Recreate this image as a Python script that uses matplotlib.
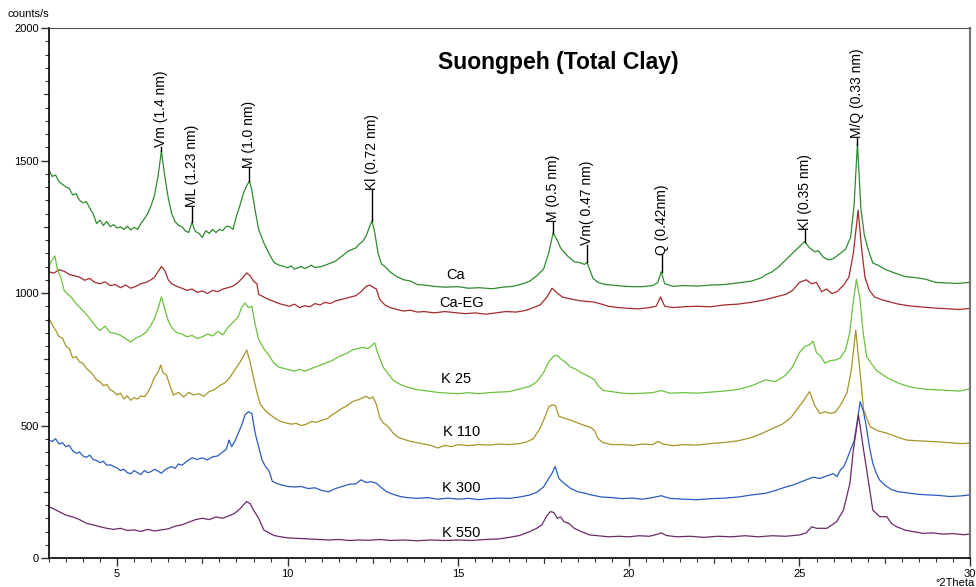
import matplotlib
matplotlib.use("Agg")
import matplotlib.pyplot as plt
from matplotlib.ticker import MultipleLocator, FixedLocator
import numpy as np

plt.rcParams['font.family'] = ['Liberation Sans', 'DejaVu Sans']

# ---------------- data (°2Theta, counts/s) ----------------
ca_x = [3.0, 3.1, 3.2, 3.3, 3.4, 3.5, 3.6, 3.7, 3.8, 3.9, 4.0, 4.1, 4.2, 4.3, 4.4, 4.5, 4.6, 4.7, 4.8, 4.9,
        5.0, 5.1, 5.2, 5.3, 5.4, 5.5, 5.6, 5.7, 5.8, 5.9, 6.0, 6.1, 6.2, 6.3, 6.4, 6.5, 6.6, 6.7, 6.8, 6.9,
        7.0, 7.1, 7.2, 7.25, 7.3, 7.4, 7.5, 7.6, 7.7, 7.8, 7.9, 8.0, 8.1, 8.2, 8.3, 8.4, 8.5, 8.6, 8.7, 8.8,
        8.88, 8.95, 9.05, 9.15, 9.3, 9.45, 9.6, 9.75, 9.9, 10.0, 10.1, 10.2, 10.4, 10.5, 10.7, 10.8, 11.0,
        11.2, 11.4, 11.6, 11.8, 12.0, 12.1, 12.2, 12.3, 12.4, 12.47, 12.55, 12.65, 12.75, 12.85, 13.0, 13.2,
        13.4, 13.6, 13.8, 14.0, 14.3, 14.6, 15.0, 15.3, 15.6, 16.0, 16.3, 16.6, 16.9, 17.1, 17.3, 17.5, 17.65,
        17.78, 17.9, 18.0, 18.2, 18.4, 18.55, 18.7, 18.77, 18.85, 18.95, 19.1, 19.3, 19.5, 19.8, 20.1, 20.4,
        20.7, 20.85, 20.95, 21.05, 21.3, 21.6, 22.0, 22.4, 22.8, 23.2, 23.6, 23.9, 24.0, 24.2, 24.4, 24.6,
        24.8, 25.0, 25.15, 25.3, 25.45, 25.55, 25.7, 25.85, 26.0, 26.2, 26.35, 26.5, 26.6, 26.7, 26.8, 26.9,
        27.0, 27.15, 27.3, 27.5, 27.8, 28.1, 28.4, 28.7, 29.0, 29.3, 29.6, 30.0]
ca_y = [1465, 1440, 1445, 1420, 1410, 1400, 1395, 1370, 1375, 1350, 1340, 1345, 1320, 1300, 1262, 1275, 1255, 1270, 1250, 1258,
        1245, 1250, 1240, 1252, 1238, 1248, 1240, 1262, 1280, 1300, 1330, 1370, 1440, 1535, 1440, 1360, 1300, 1270, 1255, 1250,
        1235, 1228, 1268, 1245, 1232, 1225, 1210, 1235, 1225, 1240, 1228, 1240, 1235, 1252, 1250, 1240, 1290, 1330, 1375, 1405,
        1422, 1390, 1310, 1240, 1190, 1150, 1115, 1105, 1100, 1095, 1102, 1090, 1100, 1092, 1105, 1096, 1100,
        1110, 1120, 1140, 1160, 1170, 1185, 1195, 1215, 1250, 1272, 1230, 1150, 1110, 1100, 1080, 1062,
        1050, 1045, 1032, 1030, 1025, 1022, 1024, 1018, 1020, 1016, 1022, 1025, 1035, 1045, 1065, 1090, 1150,
        1226, 1200, 1170, 1140, 1118, 1115, 1108, 1115, 1090, 1055, 1040, 1032, 1030, 1026, 1024, 1024,
        1028, 1040, 1080, 1035, 1025, 1028, 1026, 1030, 1032, 1038, 1045, 1058, 1068, 1080, 1100, 1125,
        1150, 1175, 1194, 1170, 1155, 1160, 1135, 1125, 1130, 1150, 1165, 1210, 1330, 1565, 1320, 1220,
        1170, 1113, 1105, 1090, 1075, 1062, 1058, 1052, 1040, 1038, 1036, 1040]

caeg_x = [3.0, 3.15, 3.3, 3.45, 3.6, 3.75, 3.9, 4.05, 4.2, 4.35, 4.5, 4.65, 4.8, 4.95, 5.1, 5.25, 5.4, 5.55, 5.7, 5.85,
          6.0, 6.1, 6.2, 6.3, 6.4, 6.5, 6.6, 6.75, 6.9, 7.05, 7.2, 7.35, 7.5, 7.65, 7.8, 7.95, 8.1, 8.25, 8.4, 8.55,
          8.7, 8.8, 8.9, 9.0, 9.1, 9.15, 9.3, 9.45, 9.6, 9.75, 9.9, 10.05, 10.2, 10.35, 10.5, 10.65, 10.8, 10.95,
          11.1, 11.25, 11.4, 11.55, 11.7, 11.85, 12.0, 12.15, 12.3, 12.4, 12.5, 12.6, 12.7, 12.85, 13.0, 13.2,
          13.4, 13.6, 13.8, 14.0, 14.3, 14.6, 14.9, 15.2, 15.5, 15.8, 16.1, 16.4, 16.7, 17.0, 17.2, 17.4, 17.6,
          17.75, 17.9, 18.05, 18.2, 18.4, 18.6, 18.8, 19.0, 19.2, 19.4, 19.7, 20.0, 20.3, 20.6, 20.8, 20.93,
          21.05, 21.3, 21.6, 22.0, 22.4, 22.8, 23.2, 23.6, 24.0, 24.3, 24.6, 24.8, 25.0, 25.2, 25.35, 25.5,
          25.65, 25.8, 25.95, 26.1, 26.3, 26.45, 26.58, 26.72, 26.82, 26.92, 27.05, 27.2, 27.4, 27.6, 27.9,
          28.2, 28.5, 28.8, 29.1, 29.4, 29.7, 30.0]
caeg_y = [1080, 1075, 1088, 1082, 1070, 1065, 1060, 1048, 1055, 1040, 1035, 1042, 1028, 1032, 1020, 1030, 1018, 1025, 1035, 1040,
          1050, 1060, 1080, 1100, 1085, 1050, 1035, 1025, 1018, 1010, 1015, 1002, 1008, 998, 1010, 1005, 1015, 1020, 1026, 1040,
          1060, 1076, 1065, 1045, 1035, 995, 985, 975, 968, 960, 955, 950, 958, 945, 952, 948, 960, 955,
          965, 960, 970, 975, 980, 985, 990, 1005, 1025, 1030, 1022, 1015, 975, 955, 945, 938,
          932, 935, 928, 930, 925, 930, 926, 922, 925, 920, 925, 930, 928, 935, 945, 955, 985,
          1018, 1000, 985, 980, 975, 970, 968, 965, 958, 950, 945, 942, 940, 945, 950, 985,
          950, 945, 948, 950, 948, 955, 958, 965, 975, 985, 995, 1010, 1040, 1050, 1035, 1040,
          1005, 1015, 998, 1005, 1030, 1060, 1150, 1313, 1170, 1060, 1010, 985, 975, 968, 958,
          952, 948, 945, 942, 940, 938, 942]

k25_x = [3.0, 3.1, 3.18, 3.25, 3.35, 3.45, 3.55, 3.65, 3.8, 3.95, 4.1, 4.25, 4.4, 4.5, 4.65, 4.8, 4.95, 5.1, 5.25, 5.4,
         5.55, 5.7, 5.85, 6.0, 6.1, 6.2, 6.3, 6.4, 6.5, 6.6, 6.75, 6.9, 7.05, 7.2, 7.35, 7.5, 7.65, 7.8, 7.95, 8.1,
         8.25, 8.4, 8.55, 8.65, 8.75, 8.85, 8.95, 9.05, 9.15, 9.3, 9.45, 9.6, 9.75, 9.9, 10.05, 10.2, 10.35, 10.5,
         10.7, 10.9, 11.1, 11.3, 11.5, 11.7, 11.9, 12.05, 12.2, 12.35, 12.45, 12.55, 12.65, 12.8, 12.95, 13.1,
         13.3, 13.5, 13.8, 14.1, 14.4, 14.7, 15.0, 15.3, 15.6, 15.9, 16.2, 16.5, 16.8, 17.1, 17.3, 17.5, 17.65,
         17.8, 17.9, 18.0, 18.15, 18.3, 18.45, 18.6, 18.75, 18.9, 19.0, 19.1, 19.25, 19.5, 19.8, 20.1, 20.4,
         20.7, 20.95, 21.2, 21.6, 22.0, 22.4, 22.8, 23.2, 23.6, 24.0, 24.3, 24.6, 24.8, 25.0, 25.15, 25.3,
         25.4, 25.5, 25.6, 25.75, 25.9, 26.05, 26.2, 26.35, 26.47, 26.57, 26.67, 26.77, 26.87, 26.97, 27.1,
         27.25, 27.4, 27.6, 27.9, 28.2, 28.5, 28.8, 29.1, 29.4, 29.7, 30.0]
k25_y = [1100, 1125, 1140, 1090, 1060, 1010, 995, 985, 960, 940, 920, 895, 870, 858, 875, 850, 848, 840, 828, 815,
         830, 838, 852, 880, 905, 940, 985, 940, 895, 870, 850, 845, 835, 840, 828, 835, 845, 838, 855, 842,
         870, 890, 910, 945, 962, 945, 950, 880, 825, 790, 765, 735, 720, 715, 710, 705, 712, 705,
         715, 725, 735, 745, 760, 770, 785, 790, 795, 790, 800, 812, 770, 720, 695, 670,
         655, 645, 635, 630, 625, 622, 620, 624, 620, 624, 626, 628, 638, 648, 665, 700, 740,
         762, 765, 752, 738, 720, 712, 700, 690, 680, 672, 650, 632, 628, 622, 620, 622,
         624, 632, 622, 624, 622, 626, 630, 636, 650, 672, 666, 690, 722, 775, 798, 805,
         818, 775, 765, 735, 745, 747, 755, 785, 848, 960, 1052, 980, 848, 760, 735,
         709, 695, 678, 660, 647, 640, 636, 634, 632, 630, 638]

k110_x = [3.0, 3.1, 3.2, 3.3, 3.4, 3.5, 3.6, 3.7, 3.8, 3.9, 4.0, 4.1, 4.2, 4.3, 4.4, 4.5, 4.6, 4.7, 4.8, 4.9,
          5.0, 5.1, 5.2, 5.3, 5.4, 5.5, 5.6, 5.7, 5.8, 5.9, 6.0, 6.1, 6.2, 6.28, 6.35, 6.45, 6.55, 6.65, 6.8, 6.95,
          7.1, 7.25, 7.4, 7.55, 7.7, 7.85, 8.0, 8.15, 8.3, 8.45, 8.6, 8.7, 8.8, 8.9, 9.0, 9.1, 9.2, 9.35, 9.5,
          9.65, 9.8, 9.95, 10.1, 10.25, 10.4, 10.55, 10.7, 10.85, 11.0, 11.15, 11.3, 11.45, 11.6, 11.75, 11.9,
          12.0, 12.1, 12.2, 12.3, 12.4, 12.5, 12.6, 12.7, 12.8, 12.95, 13.1, 13.25, 13.4, 13.6, 13.8, 14.0,
          14.2, 14.4, 14.6, 14.8, 15.0, 15.3, 15.6, 15.9, 16.2, 16.5, 16.8, 17.0, 17.2, 17.4, 17.55, 17.65,
          17.75, 17.85, 17.95, 18.1, 18.3, 18.45, 18.6, 18.75, 18.9, 19.0, 19.1, 19.25, 19.5, 19.8, 20.1, 20.4,
          20.7, 20.85, 21.0, 21.3, 21.6, 22.0, 22.4, 22.8, 23.2, 23.6, 23.9, 24.2, 24.5, 24.75, 24.95, 25.1,
          25.2, 25.3, 25.45, 25.6, 25.75, 25.9, 26.05, 26.2, 26.39, 26.52, 26.65, 26.79, 26.88, 27.07, 27.3,
          27.56, 27.9, 28.14, 28.5, 28.8, 29.1, 29.4, 29.7, 30.0]
k110_y = [905, 880, 860, 835, 830, 800, 790, 755, 760, 740, 735, 715, 705, 690, 672, 665, 650, 655, 635, 628,
          615, 622, 600, 612, 595, 605, 600, 612, 608, 625, 650, 682, 700, 728, 700, 690, 650, 615, 625, 608,
          625, 615, 620, 610, 628, 635, 650, 660, 680, 710, 738, 760, 785, 740, 680, 625, 580, 555, 540,
          525, 515, 510, 505, 508, 500, 505, 515, 512, 520, 525, 540, 552, 565, 575, 590,
          595, 598, 605, 610, 602, 608, 580, 530, 510, 495, 470, 455, 448, 440, 435, 430,
          425, 415, 425, 420, 428, 424, 428, 426, 430, 428, 432, 438, 450, 490, 535, 570,
          578, 575, 535, 528, 520, 512, 505, 498, 492, 480, 450, 435, 428, 428, 425, 430,
          428, 440, 430, 424, 428, 426, 432, 436, 442, 455, 470, 488, 505, 530, 565, 590,
          610, 628, 575, 545, 552, 546, 550, 577, 622, 709, 860, 684, 559, 496, 480,
          471, 455, 445, 442, 440, 438, 435, 432, 433]

k300_x = [3.0, 3.1, 3.2, 3.3, 3.4, 3.5, 3.6, 3.7, 3.8, 3.9, 4.0, 4.1, 4.2, 4.3, 4.4, 4.5, 4.6, 4.7, 4.8, 4.9,
          5.0, 5.1, 5.2, 5.3, 5.4, 5.5, 5.6, 5.7, 5.8, 5.9, 6.0, 6.1, 6.2, 6.3, 6.4, 6.5, 6.6, 6.7, 6.8, 6.9,
          7.0, 7.1, 7.2, 7.35, 7.5, 7.65, 7.8, 7.95, 8.1, 8.2, 8.28, 8.36, 8.45, 8.55, 8.65, 8.75, 8.85, 8.95,
          9.05, 9.15, 9.25, 9.35, 9.45, 9.55, 9.7, 9.85, 10.0, 10.2, 10.4, 10.6, 10.8, 11.0, 11.2, 11.4, 11.6,
          11.8, 12.0, 12.15, 12.3, 12.45, 12.6, 12.75, 12.9, 13.1, 13.3, 13.5, 13.8, 14.1, 14.4, 14.7, 15.0,
          15.3, 15.6, 15.9, 16.2, 16.5, 16.8, 17.1, 17.3, 17.5, 17.65, 17.75, 17.84, 17.95, 18.1, 18.3, 18.5,
          18.7, 18.9, 19.2, 19.5, 19.8, 20.1, 20.4, 20.7, 20.95, 21.2, 21.6, 22.0, 22.4, 22.8, 23.2, 23.6,
          24.0, 24.3, 24.6, 24.8, 25.0, 25.2, 25.4, 25.6, 25.8, 26.0, 26.1, 26.2, 26.3, 26.4, 26.5, 26.6,
          26.7, 26.78, 26.88, 26.96, 27.05, 27.15, 27.25, 27.35, 27.5, 27.7, 27.9, 28.2, 28.5, 28.8, 29.1,
          29.4, 29.7, 30.0]
k300_y = [445, 440, 450, 430, 435, 420, 425, 405, 395, 400, 385, 380, 388, 372, 368, 360, 365, 350, 352, 345,
          340, 330, 335, 322, 318, 330, 322, 315, 330, 322, 326, 335, 328, 320, 332, 340, 345, 338, 355, 350,
          360, 370, 378, 372, 378, 370, 382, 385, 400, 410, 445, 420, 440, 470, 500, 540, 552, 545,
          470, 420, 370, 345, 330, 290, 280, 275, 270, 268, 270, 262, 265, 255, 250, 262, 270,
          278, 280, 295, 285, 288, 282, 265, 250, 240, 232, 228, 225, 228, 222, 226, 222,
          225, 220, 224, 226, 225, 230, 238, 248, 268, 300, 320, 345, 300, 282, 262, 250,
          245, 238, 230, 228, 224, 226, 222, 228, 235, 225, 222, 220, 224, 226, 230, 238,
          244, 255, 268, 275, 285, 295, 305, 300, 310, 318, 307, 332, 345, 375, 410, 440,
          520, 590, 550, 496, 420, 357, 320, 294, 275, 258, 250, 245, 240, 238, 236,
          232, 234, 238]

k550_x = [3.0, 3.15, 3.3, 3.5, 3.7, 3.9, 4.1, 4.3, 4.5, 4.7, 4.9, 5.1, 5.3, 5.5, 5.7, 5.9, 6.1, 6.3, 6.5, 6.7,
          6.9, 7.1, 7.3, 7.5, 7.7, 7.9, 8.1, 8.3, 8.45, 8.6, 8.7, 8.8, 8.9, 9.0, 9.15, 9.3, 9.45, 9.6, 9.8,
          10.0, 10.3, 10.6, 10.9, 11.2, 11.5, 11.8, 12.1, 12.4, 12.7, 13.0, 13.4, 13.8, 14.2, 14.6, 15.0, 15.4,
          15.8, 16.2, 16.5, 16.8, 17.1, 17.3, 17.45, 17.6, 17.7, 17.8, 17.9, 18.0, 18.1, 18.25, 18.4, 18.6,
          18.85, 19.1, 19.4, 19.7, 20.0, 20.3, 20.6, 20.85, 20.95, 21.1, 21.4, 21.8, 22.2, 22.6, 23.0, 23.4,
          23.8, 24.2, 24.6, 25.0, 25.2, 25.36, 25.5, 25.8, 26.09, 26.29, 26.48, 26.58, 26.73, 26.88, 27.03,
          27.15, 27.35, 27.56, 27.7, 27.85, 28.1, 28.4, 28.63, 28.9, 29.2, 29.5, 29.8, 30.0]
k550_y = [194, 185, 175, 162, 155, 145, 131, 125, 118, 112, 108, 112, 104, 106, 100, 108, 102, 106, 110, 120,
          125, 135, 145, 150, 145, 155, 150, 160, 169, 185, 200, 213, 205, 181, 150, 106, 95, 85, 80,
          76, 74, 72, 70, 68, 70, 66, 68, 67, 70, 66, 68, 65, 68, 66, 68, 66,
          70, 72, 78, 85, 100, 112, 125, 160, 175, 172, 150, 155, 137, 130, 112, 100,
          87, 84, 80, 82, 80, 84, 82, 90, 95, 85, 80, 82, 78, 82, 80, 84,
          80, 84, 82, 87, 95, 118, 112, 112, 137, 181, 282, 408, 540, 408, 282,
          181, 156, 156, 130, 118, 105, 98, 93, 95, 90, 92, 88, 90]

series_names = ['Ca', 'Ca-EG', 'K 25', 'K 110', 'K 300', 'K 550']
series_colors = ['#2e8b2e', '#a52a2a', '#6ac23c', '#a89428', '#2a5cc0', '#6a2a6a']
# label positions (°2Theta, counts/s)
label_x = [14.91, 15.1, 14.95, 15.1, 15.1, 15.1]
label_y = [1068, 961, 674, 477, 263, 93]

# peak annotations: text, 2theta, peak top, text base
peak_texts = ['Vm (1.4 nm)', 'ML (1.23 nm)', 'M (1.0 nm)', 'Kl (0.72 nm)', 'M (0.5 nm)',
              'Vm( 0.47 nm)', 'Q (0.42nm)', 'Kl (0.35 nm)', 'M/Q (0.33 nm)']
peak_pos = [6.3, 7.2, 8.88, 12.47, 17.78, 18.77, 20.96, 25.16, 26.7]
peak_top = [1535, 1268, 1422, 1272, 1226, 1118, 1080, 1194, 1560]
peak_base = [1550, 1325, 1472, 1389, 1268, 1181, 1143, 1238, 1585]

# ---------------- plot ----------------
fig = plt.figure(figsize=(9.76, 5.87), dpi=100)
ax = fig.add_axes([0.05, 0.0494, 0.9439, 0.9029])

xs = [ca_x, caeg_x, k25_x, k110_x, k300_x, k550_x]
ys = [ca_y, caeg_y, k25_y, k110_y, k300_y, k550_y]
for x, y, c in zip(xs, ys, series_colors):
    ax.plot(x, y, color=c, lw=0.9)

for name, lx, ly in zip(series_names, label_x, label_y):
    ax.text(lx, ly, name, fontsize=10.5, ha='center', va='center', color='black')

for t, px, top, base in zip(peak_texts, peak_pos, peak_top, peak_base):
    ax.plot([px, px], [top, base], color='black', lw=1.0)
    ax.text(px, base, t, rotation=90, ha='center', va='bottom', fontsize=10, color='black')

ax.set_xlim(3, 30)
ax.set_ylim(0, 2000)

ax.xaxis.set_major_locator(FixedLocator([5, 10, 15, 20, 25, 30]))
ax.xaxis.set_minor_locator(MultipleLocator(0.5))
ax.yaxis.set_major_locator(FixedLocator([0, 500, 1000, 1500, 2000]))
ax.yaxis.set_minor_locator(MultipleLocator(50))
ax.tick_params(axis='both', which='major', direction='out', length=6, width=1, labelsize=8, color='#333333')
ax.tick_params(axis='both', which='minor', direction='out', length=3, width=0.8, color='#333333')
ax.tick_params(axis='x', pad=2)
ax.tick_params(axis='y', pad=1)

# medium ticks at 2.5 / 250 intervals
for xv in [7.5, 12.5, 17.5, 22.5, 27.5]:
    ax.plot([xv, xv], [0, -17], color='#333333', lw=0.8, clip_on=False)
for yv in [250, 750, 1250, 1750]:
    ax.plot([3, 2.86], [yv, yv], color='#333333', lw=0.8, clip_on=False)

ax.spines['left'].set_color('black')
ax.spines['bottom'].set_color('black')
ax.spines['left'].set_linewidth(1.2)
ax.spines['bottom'].set_linewidth(1.2)
ax.spines['top'].set_color('#555555')
ax.spines['right'].set_color('#777777')
ax.spines['right'].set_linewidth(1.6)

fig.text(0.572, 0.894, 'Suongpeh (Total Clay)', fontsize=16.5, fontweight='bold',
         ha='center', va='center')
fig.text(0.008, 0.976, 'counts/s', fontsize=8, ha='left', va='center')
fig.text(0.999, 0.007, '°2Theta', fontsize=8, ha='right', va='center')

fig.savefig('out.png', dpi=100)
